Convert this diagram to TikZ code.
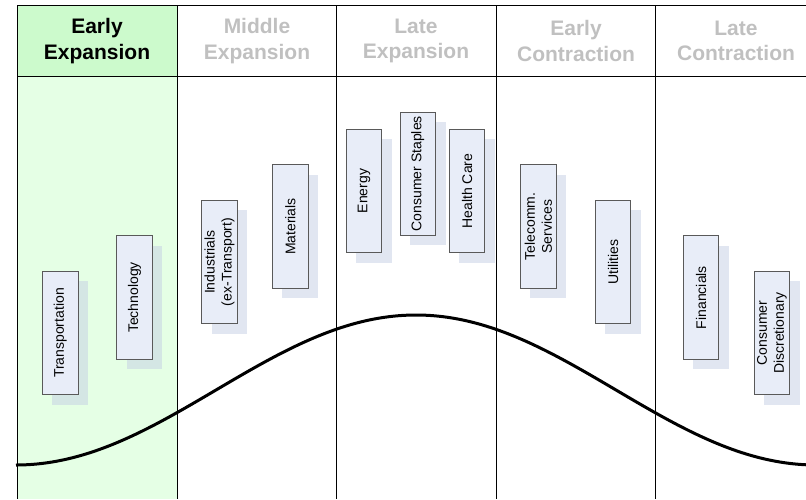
\documentclass[tikz,border=0pt]{standalone}
\usepackage{fontspec}
\setmainfont{Liberation Sans}
\usetikzlibrary{shadows}
\definecolor{headgreen}{RGB}{204,250,204}
\definecolor{colgreen}{RGB}{229,255,229}
\definecolor{boxfill}{RGB}{232,237,248}
\definecolor{shadowblue}{RGB}{196,206,228}
\definecolor{fadedtext}{RGB}{192,192,192}

\begin{document}
\begin{tikzpicture}[x=1pt,y=-1pt,
  phase/.style = {align=center, font=\fontsize{21}{25.7}\selectfont\bfseries, text=fadedtext},
  sector/.style = {draw=black!65, line width=0.8pt, fill=boxfill, rotate=90, inner sep=0pt,
    minimum width=123.5pt, minimum height=35.7pt, align=center, font=\fontsize{14}{17}\selectfont,
    drop shadow={shadow xshift=10pt, shadow yshift=-10pt, fill=shadowblue, opacity=0.5}}]
\useasboundingbox (0,0) rectangle (806,499);
% grid
\fill[headgreen] (17,5.5) rectangle (177,76);
\fill[colgreen] (17,76) rectangle (177,499);
\draw[line width=0.8pt] (17,5.5) -- (806,5.5) (17,76) -- (806,76);
\draw[line width=0.8pt] (17,5.5) -- (17,499) (177,5.5) -- (177,499) (336,5.5) -- (336,499)
  (496,5.5) -- (496,499) (655,5.5) -- (655,499);
\node[phase, text=black](early exp) at (97,41) {Early\\Expansion};
\node[phase](middle exp) at (257,41) {Middle\\Expansion};
\node[phase](late exp) at (416,41) {Late\\Expansion};
\node[phase](early con) at (576,41) {Early\\Contraction};
\node[phase](late con) at (736,41) {Late\\Contraction};
% sectors
\node[sector](transport) at (60.3,333) {Transportation};
\node[sector](tech) at (134.5,297.5) {Technology};
\node[sector](industrials) at (219.5,262) {Industrials\\(ex-Transport)};
\node[sector](materials) at (290.3,226.5) {Materials};
\node[sector](energy) at (364,191) {Energy};
\node[sector](staples) at (417.8,173.7) {Consumer Staples};
\node[sector](health) at (467,191) {Health Care};
\node[sector](telecom) at (538.3,226.5) {Telecomm.\\Services};
\node[sector](utilities) at (613,262) {Utilities};
\node[sector](financials) at (701,297.5) {Financials};
\node[sector](discretionary) at (772,333) {Consumer\\Discretionary};
% business cycle
\draw[line width=3pt] plot[domain=16:806, samples=120, smooth] (\x, {390-75*cos(0.45*(\x-416))});
\end{tikzpicture}
\end{document}
